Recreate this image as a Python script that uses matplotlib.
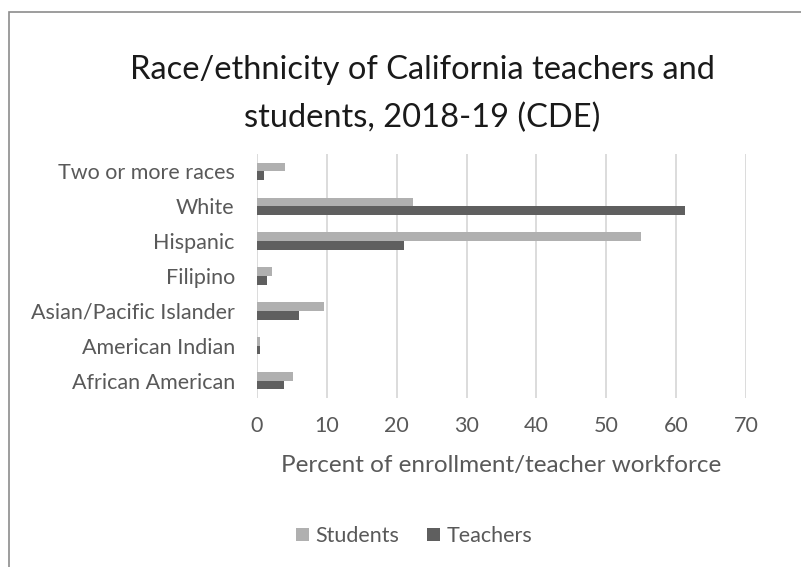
"""
Race/ethnicity of California teachers and students, 2018-19 (CDE)
"""
import numpy as np
import matplotlib.pyplot as plt
from matplotlib.patches import Rectangle

categories = [
    "African American", "American Indian", "Asian/Pacific Islander",
    "Filipino", "Hispanic", "White", "Two or more races",
]
students = [5.2, 0.5, 9.6, 2.2, 54.9, 22.3, 4.0]
teachers = [3.8, 0.5, 6.0, 1.4, 21.0, 61.2, 1.0]
x_ticks = [0, 10, 20, 30, 40, 50, 60, 70]

plt.rcParams['font.family'] = ['Lato', 'DejaVu Sans']

fig = plt.figure(figsize=(8.01, 5.67), dpi=100)
# chart frame (cut off at right and bottom like the reference)
fig.patches.append(Rectangle((9 / 801, -0.1), 1.0, 1 - 12 / 567 + 0.1,
                             transform=fig.transFigure, fill=False,
                             edgecolor='#8c8c8c', linewidth=1.2))

ax = fig.add_axes([257 / 801, 1 - 398 / 567, (746 - 257) / 801, (398 - 154) / 567])

y = np.arange(len(categories))
h = 0.25
ax.barh(y + h / 2, students, height=h, color='#b0b0b0', label='Students', zorder=3)
ax.barh(y - h / 2, teachers, height=h, color='#5f5f5f', label='Teachers', zorder=3)

ax.set_xlim(0, 70)
ax.set_ylim(-0.5, len(categories) - 0.5)
ax.set_xticks(x_ticks)
ax.set_yticks(y)
ax.set_yticklabels(categories)
ax.tick_params(axis='both', length=0, labelsize=15.5, colors='#595959')
ax.tick_params(axis='x', pad=13)
ax.tick_params(axis='y', pad=16)
ax.grid(axis='x', color='#d9d9d9', linewidth=1.3, zorder=0)
for side in ['top', 'right', 'bottom', 'left']:
    ax.spines[side].set_visible(False)

ax.set_xlabel('Percent of enrollment/teacher workforce', fontsize=17.5,
              color='#595959', labelpad=14)

fig.text(422 / 801, 1 - 94 / 567,
         'Race/ethnicity of California teachers and\nstudents, 2018-19 (CDE)',
         ha='center', va='center', fontsize=23.5, color='#1a1a1a', linespacing=1.7)

fig.legend(loc='center', bbox_to_anchor=(414 / 801, 1 - 536 / 567), ncol=2,
           frameon=False, fontsize=15.5, handlelength=0.6, handleheight=0.6,
           handletextpad=0.3, columnspacing=1.3, labelcolor='#595959')

fig.savefig('out.png', dpi=100)
